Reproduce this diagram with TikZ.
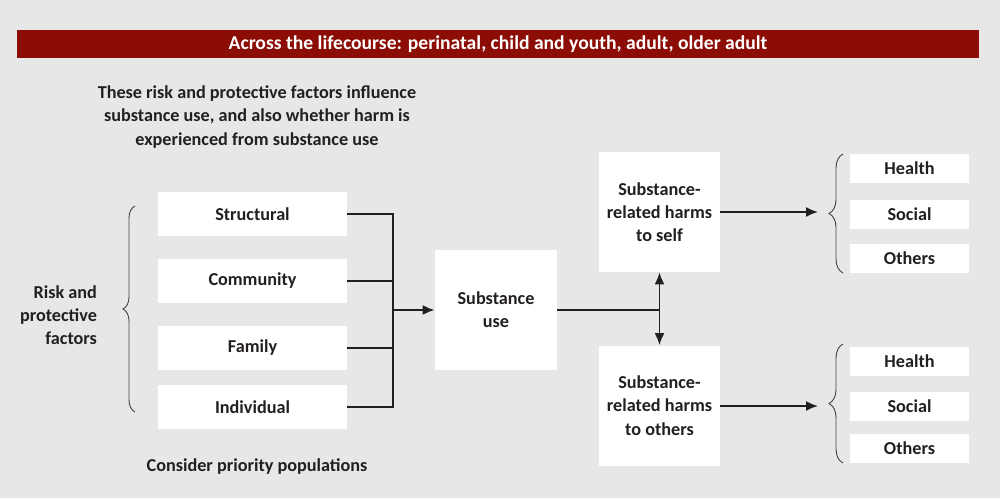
\documentclass[tikz,border=0pt]{standalone}
\usepackage{fontspec}
\setmainfont{Carlito}
\usetikzlibrary{decorations.pathreplacing,arrows.meta}
\definecolor{bg}{HTML}{E6E7E6}
\definecolor{barred}{HTML}{8B0D05}
\definecolor{ink}{HTML}{231F20}

\begin{document}
\begin{tikzpicture}[x=0.5pt,y=-0.5pt,>={Latex[length=6pt,width=5pt]},font=\bfseries\fontsize{9.1}{11.6}\selectfont,text=ink,
  box/.style={fill=white, inner sep=0pt, align=center},
  fac/.style={box, minimum width=94.5pt, minimum height=22pt},
  big/.style={box, minimum width=61pt, minimum height=60pt},
  res/.style={box, minimum width=59.5pt, minimum height=14.5pt},
  link/.style={draw=ink, line width=0.9pt},
  brc/.style={draw=ink!85, line width=0.45pt, decorate, decoration={brace, amplitude=#1}}]
  \useasboundingbox[fill=bg] (0,0) rectangle (1000,498);

  % header and notes
  \node[fill=barred, text=white, inner sep=0pt, minimum width=481pt, minimum height=14pt,
        font=\bfseries\fontsize{9.8}{11.5}\selectfont] (title) at (498,44)
    {Across the lifecourse: perinatal, child and youth, adult, older adult};
  \node[align=center] (note) at (257,117) {These risk and protective factors influence\\substance use, and also whether harm is\\experienced from substance use};
  \node[align=right, anchor=east] (risk) at (104,315) {Risk and\\protective\\factors};
  \node (prio) at (257,467) {Consider priority populations};

  % factors
  \node[fac] (str) at (252.5,214) {Structural};
  \node[fac] (com) at (252.5,281) {Community};
  \node[fac] (fam) at (252.5,348) {Family};
  \node[fac] (ind) at (252.5,407) {Individual};

  \node[big] (use) at (496,310) {Substance\\use};
  \node[big, minimum width=60.5pt] (self) at (659.5,212) {Substance-\\related harms\\to self};
  \node[big, minimum width=60.5pt] (oth) at (659.5,405.5) {Substance-\\related harms\\to others};

  % outcomes
  \node[res] (h1) at (909.5,168.5) {Health};
  \node[res] (s1) at (909.5,214.5) {Social};
  \node[res] (o1) at (909.5,258) {Others};
  \node[res] (h2) at (909.5,361.5) {Health};
  \node[res] (s2) at (909.5,406.5) {Social};
  \node[res] (o2) at (909.5,448) {Others};

  \coordinate (jn) at (393,310);
  \coordinate (sp) at (659.5,310);
  \coordinate (tA) at (818,212);
  \coordinate (tB) at (818,406);

  \draw[link] (str.east) -| (jn);
  \draw[link] (com.east) -| (jn);
  \draw[link] (fam.east) -| (jn);
  \draw[link] (ind.east) -| (jn);
  \draw[link,->] (jn) -- (use);
  \draw[link] (use) -- (sp);
  \draw[link,<->] (self) -- (oth);
  \draw[link,->] (self) -- (tA);
  \draw[link,->] (oth.east |- tB) -- (tB);

  % braces
  \draw[brc=6pt] (135,412) -- (135,206);
  \draw[brc=7pt] (843,273) -- (843,154);
  \draw[brc=7pt] (843,463) -- (843,344);
\end{tikzpicture}
\end{document}
